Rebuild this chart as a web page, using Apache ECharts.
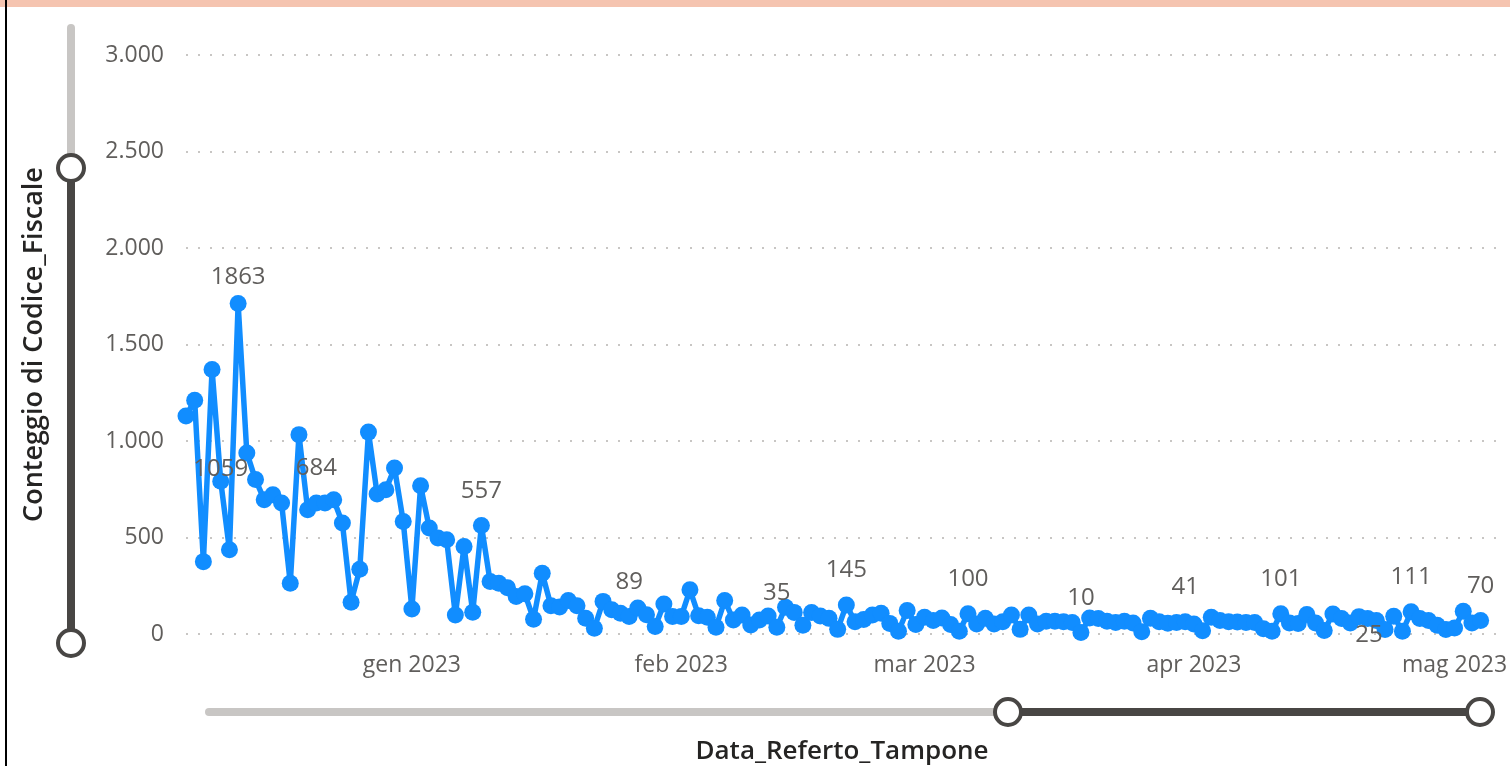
<!DOCTYPE html>
<html>
<head>
<meta charset="utf-8">
<title>Conteggio di Codice_Fiscale per Data_Referto_Tampone</title>
<script src="https://cdn.jsdelivr.net/npm/echarts@6/dist/echarts.min.js"></script>
<style>
  html, body { margin: 0; padding: 0; background: #fff; }
  #chart { width: 1510px; height: 766px; }
</style>
</head>
<body>
<div id="chart"></div>
<script>
// conteggi giornalieri (6 dic 2022 -> 4 mag 2023)
const firstDay = '2022-12-06';
const lastAxisDay = '2023-05-06';
const dicValues = [1130, 1211, 375, 1371, 791, 436, 1712, 938, 800, 696, 722, 679, 263,
  1033, 644, 679, 679, 696, 575, 165, 336, 1046, 725, 748, 860, 583];
const genValues = [130, 768, 549, 497, 488, 99, 453, 113, 562, 272, 263, 240, 194, 208, 77,
  315, 146, 140, 174, 146, 82, 30, 169, 126, 108, 91, 135, 100, 39, 156, 91];
const febValues = [91, 229, 95, 87, 35, 173, 73, 99, 47, 73, 93, 35, 139, 112, 45, 111,
  93, 81, 24, 150, 64, 75, 99, 108, 55, 14, 122, 49];
const marValues = [87, 70, 83, 49, 14, 105, 52, 82, 52, 64, 99, 24, 99, 52, 66, 66, 64,
  60, 8, 83, 80, 66, 59, 66, 57, 12, 82, 63, 56, 60, 63];
const aprValues = [52, 17, 87, 70, 63, 62, 60, 60, 27, 14, 105, 57, 54, 101, 57, 18, 104,
  80, 57, 90, 80, 70, 23, 92, 14, 115, 80, 70, 45, 23];
const magValues = [31, 118, 57, 70];

const monthNames = ['gen', 'feb', 'mar', 'apr', 'mag', 'giu', 'lug', 'ago', 'set', 'ott', 'nov', 'dic'];

// etichette dati mostrate nel report
const labelDates = ['2022-12-10', '2022-12-12', '2022-12-21', '2023-01-09', '2023-01-26',
  '2023-02-12', '2023-02-20', '2023-03-06', '2023-03-19', '2023-03-31', '2023-04-11',
  '2023-04-23', '2023-04-26', '2023-05-04'];
const labelTexts = ['1059', '1863', '684', '557', '89', '35', '145', '100', '10', '41',
  '101', '25', '111', '70'];

// --- costruzione assi e serie ---
const allValues = [].concat(dicValues, genValues, febValues, marValues, aprValues, magValues);

function dayList(from, to) {
  const out = [];
  let t = Date.parse(from + 'T00:00:00Z');
  const end = Date.parse(to + 'T00:00:00Z');
  while (t <= end) {
    out.push(new Date(t).toISOString().slice(0, 10));
    t += 86400000;
  }
  return out;
}
const days = dayList(firstDay, lastAxisDay);

// piccoli aggiustamenti di posizione per le etichette che Power BI sposta
const labelTweaks = {
  '2022-12-10': { distance: -8 },
  '2022-12-12': { distance: 6 },
  '2023-04-23': { position: 'bottom', distance: -15, offset: [-16, 0] }
};

const seriesData = days.map(function (d, i) {
  const v = i < allValues.length ? allValues[i] : null;
  const k = labelDates.indexOf(d);
  if (k < 0) return v;
  const tw = labelTweaks[d] || {};
  return {
    value: v,
    label: {
      show: true,
      formatter: labelTexts[k],
      position: tw.position || 'top',
      distance: tw.distance !== undefined ? tw.distance : 14,
      offset: tw.offset || [0, 0]
    }
  };
});

function itNumber(v) {
  if (v < 1000) return String(v);
  return Math.floor(v / 1000) + '.' + String(v % 1000).padStart(3, '0');
}

const FONT = "'Segoe UI', 'Open Sans', sans-serif";
const dark = '#484644';
const light = '#C8C6C4';

const chart = echarts.init(document.getElementById('chart'));
chart.setOption({
  animation: false,
  backgroundColor: '#ffffff',
  textStyle: { fontFamily: FONT },
  grid: { left: 186, right: 12, top: 55, bottom: 132, containLabel: false, outerBoundsMode: 'none' },
  xAxis: {
    type: 'category',
    data: days,
    boundaryGap: false,
    name: 'Data_Referto_Tampone',
    nameLocation: 'middle',
    nameGap: 105,
    nameTextStyle: { fontFamily: FONT, fontSize: 26, fontWeight: 600, color: '#252423' },
    axisLine: { show: false },
    axisTick: { show: false },
    splitLine: { show: false },
    axisLabel: {
      margin: 20,
      fontSize: 23,
      color: '#605E5C',
      interval: function (idx, val) { return val.slice(8) === '01'; },
      formatter: function (val) {
        return monthNames[parseInt(val.slice(5, 7), 10) - 1] + ' ' + val.slice(0, 4);
      }
    }
  },
  yAxis: {
    type: 'value',
    min: 0,
    max: 3000,
    interval: 500,
    name: 'Conteggio di Codice_Fiscale',
    nameLocation: 'middle',
    nameRotate: 90,
    nameGap: 138,
    nameTextStyle: { fontFamily: FONT, fontSize: 27, fontWeight: 600, color: '#252423' },
    axisLine: { show: false },
    axisTick: { show: false },
    axisLabel: { margin: 22, fontSize: 23, color: '#605E5C', formatter: itNumber },
    splitLine: { lineStyle: { color: light, width: 2, type: [2, 10] } }
  },
  series: [{
    type: 'line',
    data: seriesData,
    symbol: 'circle',
    symbolSize: 17,
    showSymbol: true,
    showAllSymbol: true,
    connectNulls: false,
    lineStyle: { color: '#118DFF', width: 5.5 },
    itemStyle: { color: '#118DFF' },
    label: { fontSize: 24, color: '#605E5C', fontFamily: FONT },
    emphasis: { disabled: true }
  }],
  graphic: [
    // bordo superiore e sinistro del visual
    { type: 'rect', shape: { x: 0, y: 0, width: 1510, height: 7 }, style: { fill: '#F5C4B0' }, z: 10 },
    { type: 'rect', shape: { x: 5, y: 0, width: 2, height: 766 }, style: { fill: '#000' }, z: 11 },
    // cursore zoom verticale
    { type: 'line', shape: { x1: 71, y1: 28, x2: 71, y2: 168 }, style: { stroke: light, lineWidth: 8, lineCap: 'round' }, z: 10 },
    { type: 'line', shape: { x1: 71, y1: 168, x2: 71, y2: 643 }, style: { stroke: dark, lineWidth: 8 }, z: 10 },
    { type: 'circle', shape: { cx: 71, cy: 168, r: 13 }, style: { fill: '#fff', stroke: dark, lineWidth: 4 }, z: 12 },
    { type: 'circle', shape: { cx: 71, cy: 643, r: 13 }, style: { fill: '#fff', stroke: dark, lineWidth: 4 }, z: 12 },
    // cursore zoom orizzontale
    { type: 'line', shape: { x1: 209, y1: 712, x2: 1008, y2: 712 }, style: { stroke: light, lineWidth: 8, lineCap: 'round' }, z: 10 },
    { type: 'line', shape: { x1: 1008, y1: 712, x2: 1480, y2: 712 }, style: { stroke: dark, lineWidth: 8 }, z: 10 },
    { type: 'circle', shape: { cx: 1008, cy: 712, r: 13 }, style: { fill: '#fff', stroke: dark, lineWidth: 4 }, z: 12 },
    { type: 'circle', shape: { cx: 1480, cy: 712, r: 13 }, style: { fill: '#fff', stroke: dark, lineWidth: 4 }, z: 12 }
  ]
});
</script>
</body>
</html>
